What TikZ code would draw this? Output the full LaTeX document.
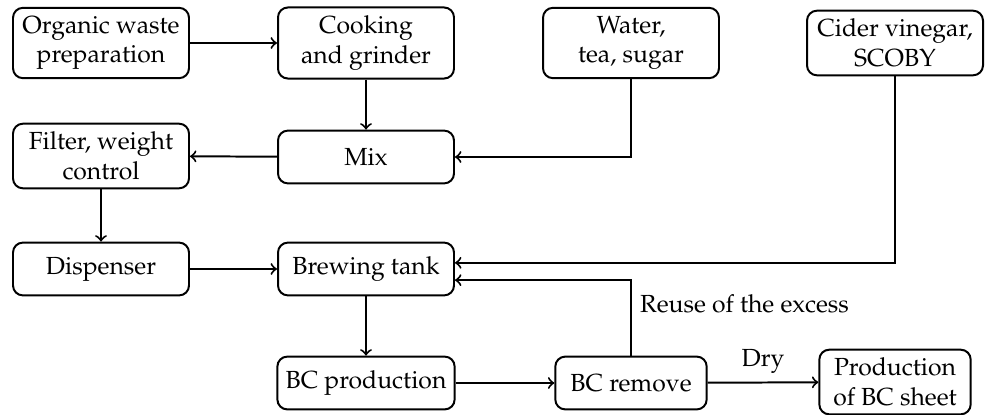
\documentclass[tikz,border=0pt]{standalone}
\usepackage[T1]{fontenc}
\usepackage{mathpazo}
\usetikzlibrary{arrows.meta}

\begin{document}
\begin{tikzpicture}[x=0.0142cm,y=-0.0142cm,>=to,thick,
  block/.style={draw,rounded corners,align=center,minimum width=2.5cm,minimum height=0.75cm},
  narrow/.style={block,minimum width=2.15cm}]
\useasboundingbox (0,0) rectangle (986,414);
% top row
\node[block] (prep) at (101,43) {Organic waste\\preparation};
\node[block] (cook) at (366,43) {Cooking\\and grinder};
\node[block] (water) at (631,43) {Water,\\tea, sugar};
\node[block] (cider) at (895,43) {Cider vinegar,\\SCOBY};
% middle rows
\node[block] (filter) at (101,156) {Filter, weight\\control};
\node[block] (mix) at (366,157) {Mix};
\node[block] (disp) at (101,269) {Dispenser};
\node[block] (tank) at (366,269) {Brewing tank};
% bottom row
\node[block] (bcprod) at (366,383) {BC production};
\node[narrow] (bcrem) at (631,383) {BC remove};
\node[narrow] (sheet) at (895,382) {Production\\of BC sheet};
% connectors
\draw[->] (prep) -- (cook);
\draw[->] (cook) -- (mix);
\draw[->] (water) |- (mix);
\draw[->] (mix) -- (filter);
\draw[->] (filter) -- (disp);
\draw[->] (disp) -- (tank);
\draw[->] (cider) |- ([yshift=2.5pt]tank.east);
\draw[->] (tank) -- (bcprod);
\draw[->] (bcprod) -- (bcrem);
\draw[->] (bcrem) -- node[above]{Dry} (sheet);
\draw[->] (bcrem.north) |- node[pos=0.34,right]{Reuse of the excess} ([yshift=-4.5pt]tank.east);
\end{tikzpicture}
\end{document}
